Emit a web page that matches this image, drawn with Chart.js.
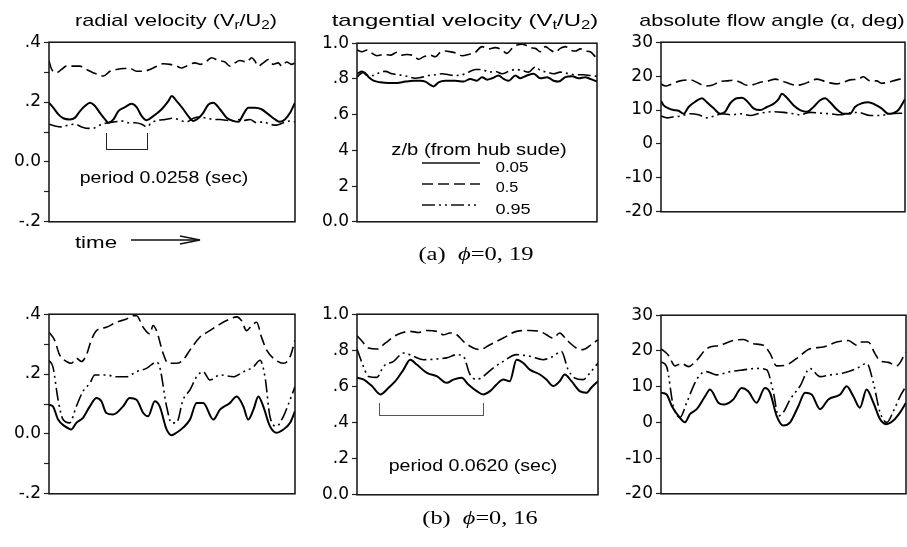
<!DOCTYPE html>
<html lang="en">
<head>
<meta charset="UTF-8">
<title>Velocity and flow angle fluctuations</title>
<style>
  body { margin: 0; background: #fff; }
  #fig { position: relative; width: 907px; height: 547px; overflow: hidden;
         font-family: "Liberation Sans", Arial, sans-serif; color: #000; }
  canvas, .txt, .brk, svg { position: absolute; }
  .txt { white-space: nowrap; font-size: 17px; line-height: 20px; transform-origin: center center; }
  .txt sub { font-size: 70%; vertical-align: -3px; line-height: 0; }
  .serif { font-family: "Liberation Serif", "Times New Roman", serif; font-size: 19px; }
  .num { font-size: 15.5px; }
  .brk { border: 1.3px solid #222; border-top: none; }
</style>
</head>
<body>
<div id="fig">
  <canvas id="radA"></canvas>
  <canvas id="tanA"></canvas>
  <canvas id="angA"></canvas>
  <canvas id="radB"></canvas>
  <canvas id="tanB"></canvas>
  <canvas id="angB"></canvas>

  <div class="txt" data-x="176" data-y="21" data-w="202">radial velocity (V<sub>r</sub>/U<sub>2</sub>)</div>
  <div class="txt" data-x="465" data-y="21" data-w="266">tangential velocity (V<sub>t</sub>/U<sub>2</sub>)</div>
  <div class="txt" data-x="772" data-y="21" data-w="265">absolute flow angle (&alpha;, deg)</div>

  <div class="txt" data-x="96" data-y="243" data-w="42">time</div>
  <svg style="left:131px;top:232px" width="72" height="16">
    <line x1="0" y1="8" x2="69" y2="8" stroke="#111" stroke-width="1.3"/>
    <polyline points="49,4 69,8 49,12" fill="none" stroke="#111" stroke-width="1.3"/>
  </svg>

  <div class="brk" style="left:106px;top:133px;width:40px;height:16px"></div>
  <div class="txt" data-x="164" data-y="178" data-w="168">period 0.0258 (sec)</div>

  <div class="txt" data-x="479" data-y="150" data-w="175">z/b (from hub sude)</div>
  <svg style="left:420px;top:155px" width="64" height="60">
    <line x1="2" y1="8" x2="60" y2="8" stroke="#111" stroke-width="1.5"/>
    <line x1="2" y1="29" x2="60" y2="29" stroke="#111" stroke-width="1.5" stroke-dasharray="11 5"/>
    <line x1="2" y1="50" x2="60" y2="50" stroke="#111" stroke-width="1.5" stroke-dasharray="13 4 2 4 2 4"/>
  </svg>
  <div class="txt num" data-x="511.5" data-y="167" data-w="33">0.05</div>
  <div class="txt num" data-x="506.5" data-y="187" data-w="23">0.5</div>
  <div class="txt num" data-x="512.5" data-y="209" data-w="35">0.95</div>

  <div class="txt serif" data-x="476" data-y="254" data-w="115">(a)&nbsp;&nbsp;<i>&#981;</i>=0,&nbsp;19</div>

  <div class="brk" style="left:379px;top:403px;width:103px;height:12px;border-color:#555"></div>
  <div class="txt" data-x="473" data-y="466" data-w="168">period 0.0620 (sec)</div>

  <div class="txt serif" data-x="480" data-y="518" data-w="115">(b)&nbsp;&nbsp;<i>&#981;</i>=0,&nbsp;16</div>
</div>

<script src="https://cdn.jsdelivr.net/npm/chart.js"></script>
<script>
// ---- data: time is 0..100 across each record, three traces per panel
// z/b = 0.05 (hub), 0.5 (mid), 0.95 (tip)

// (a) phi = 0.19, radial velocity Vr/U2
var radA_hub_t = [0,1.8,3.8,5.8,8.5,10.6,12.6,14.6,16.7,18.7,20.7,22.8,24.1,26.2,28.2,30.9,33.6,35.6,37.7,39.7,42.4,45.8,48.5,49.9,51.9,54.6,56.6,58.7,60.7,62.7,64.8,66.8,69.5,72.2,74.9,77.0,79.0,81.0,83.7,86.4,89.2,91.9,93.9,95.9,98.0,100];
var radA_hub = [0.198,0.181,0.159,0.146,0.142,0.148,0.17,0.187,0.198,0.187,0.164,0.142,0.131,0.142,0.17,0.183,0.194,0.183,0.153,0.139,0.153,0.176,0.203,0.22,0.203,0.176,0.153,0.137,0.146,0.164,0.192,0.198,0.176,0.148,0.137,0.134,0.159,0.181,0.181,0.176,0.159,0.142,0.134,0.142,0.164,0.198];
var radA_mid_t = [0,1.1,3.1,5.1,7.0,9.8,12.5,15.2,17.9,20.1,22.1,24.8,27.5,30.2,32.9,35.6,38.3,41.1,43.8,46.5,49.2,51.9,53.9,56.6,59.3,61.4,64.1,66.1,68.8,71.5,73.6,75.6,77.6,80.4,82.4,83.7,85.1,87.1,89.2,91.2,93.2,94.6,96.6,98.6,100];
var radA_mid = [0.337,0.309,0.298,0.309,0.32,0.32,0.32,0.309,0.298,0.292,0.287,0.303,0.309,0.312,0.312,0.303,0.303,0.309,0.32,0.328,0.326,0.32,0.314,0.323,0.331,0.326,0.337,0.348,0.339,0.334,0.32,0.331,0.339,0.334,0.348,0.337,0.32,0.331,0.342,0.326,0.331,0.32,0.334,0.326,0.331];
var radA_tip_t = [0,2.4,5.1,7.9,10.6,13.3,16,18.7,21.4,24.1,26.8,29.5,32.2,35,37.7,39.7,41.7,44.4,47.2,50.5,53.9,56,58.7,61.4,64.1,66.8,69.5,72.2,74.9,77.6,79.7,81.7,84.4,87.1,89.8,92.5,95.3,98,100];
var radA_tip = [0.126,0.12,0.117,0.123,0.126,0.117,0.112,0.114,0.126,0.131,0.134,0.137,0.131,0.131,0.126,0.117,0.131,0.139,0.142,0.146,0.137,0.134,0.146,0.15,0.146,0.142,0.142,0.139,0.137,0.142,0.139,0.142,0.131,0.134,0.126,0.123,0.131,0.137,0.134];

// (a) tangential velocity Vt/U2
var tanA_hub_t = [0,1.4,2.8,4.9,6.9,9.7,13.2,16.7,20.1,23.6,26.4,28.5,30.6,31.9,34,36.8,41,44.4,47.2,50,52.1,54.2,56.3,59,61.1,63.2,66,68,70.8,73.6,76.4,79.2,81.9,84,86.8,89.6,92.4,95.1,97.2,100];
var tanA_hub = [0.81,0.829,0.838,0.81,0.79,0.781,0.777,0.777,0.785,0.79,0.79,0.785,0.766,0.758,0.781,0.79,0.79,0.785,0.8,0.79,0.81,0.796,0.804,0.819,0.8,0.79,0.819,0.804,0.819,0.829,0.804,0.81,0.79,0.785,0.81,0.815,0.804,0.81,0.8,0.785];
var tanA_mid_t = [0,2.1,4.2,6.3,8.3,11.1,13.9,16.7,18.8,20.8,23.6,25.7,27.8,30.6,32.6,34.7,36.8,38.9,41.7,43.8,46.5,49.3,52.1,54.9,57.6,60.4,62.5,64.6,66.7,68.8,70.1,72.2,74.3,76.4,78.5,80.6,82.6,84.7,86.8,88.9,91,93.1,95.1,97.2,99.3];
var tanA_mid = [0.962,0.952,0.962,0.943,0.93,0.937,0.933,0.949,0.933,0.937,0.93,0.91,0.924,0.933,0.924,0.949,0.956,0.952,0.943,0.93,0.937,0.949,0.981,0.968,0.975,0.962,0.943,0.971,0.99,0.994,0.99,0.975,0.971,0.952,0.981,0.962,0.949,0.971,0.981,0.962,0.956,0.968,0.956,0.952,0.924];
var tanA_tip_t = [0,2.1,4.2,6.9,9.7,11.8,14.6,17.4,20.8,24.3,27.1,29.9,32.6,35.4,38.2,41,43.75,46.5,49.3,52.1,54.9,57.6,60.4,63.2,66,68.75,71.5,74.3,76.4,79.2,81.9,84.7,88.2,91,94.4,97.2,100];
var tanA_tip = [0.829,0.842,0.819,0.819,0.838,0.842,0.829,0.823,0.815,0.804,0.81,0.819,0.823,0.829,0.823,0.819,0.823,0.838,0.853,0.853,0.838,0.842,0.829,0.842,0.853,0.848,0.838,0.867,0.848,0.838,0.829,0.838,0.829,0.823,0.823,0.819,0.815];

// (a) absolute flow angle, deg
var angA_hub_t = [0,1.1,3.1,5.2,7.2,9.3,11.3,14.1,16.8,18.8,21.6,24.3,26.3,28.4,31.1,33.2,35.2,37.9,40.7,43.4,46.1,48.2,49.5,51.6,54.3,57,59.8,62.5,65.2,67.3,69.3,72,74.8,77.5,79.5,82.3,85,87.7,90.4,93.2,95.2,97.3,100];
var angA_hub = [12.7,11.4,10.5,10.0,9.8,8.9,10.9,12.5,13.5,12.3,10.5,8.9,9.5,12.0,13.5,13.6,12.7,10.5,10.0,10.9,11.8,13.2,14.8,13.6,11.4,10.0,9.5,10.9,12.9,13.5,12.3,10.2,8.9,8.9,10.9,12.0,12.3,11.6,10.5,8.9,9.1,10.0,13.2];
var angA_mid_t = [0,1.8,4.5,7.9,12,15.4,18.1,20.9,24.3,27,29.7,32.5,35.2,37.9,40.7,44.1,46.8,49.5,53,55.7,58.4,61.1,63.8,66.6,69.3,72,74.8,77.5,80.9,82.9,85.7,88.4,90.4,93.2,96.6,100];
var angA_mid = [17.7,17.1,17.7,18.6,18.9,17.9,17.1,17.3,18.4,18.6,18.8,18.2,17.3,17.5,18.2,18.6,19.1,18.6,17.7,17.3,17.7,18.4,19.1,18.6,18.0,17.7,18.2,18.9,19.1,19.8,18.6,18.6,17.9,18.2,18.9,19.3];
var angA_tip_t = [0,2.5,5.2,7.9,12,15.4,18.8,21.6,25,29.1,32.5,36.6,40.7,46.1,50.2,54.3,57,61.1,65.2,69.3,73.4,76.8,80.9,85.7,89.8,93.9,100];
var angA_tip = [8.2,7.7,8.0,8.2,8.9,8.6,7.7,8.2,8.9,8.6,8.9,8.4,9.1,9.5,9.3,8.9,8.6,9.3,9.1,8.9,8.6,9.1,9.3,8.4,8.4,8.9,9.1];

// (b) phi = 0.16, radial velocity
var radB_hub_t = [0,1.6,3.7,6.4,9.1,11.1,13.8,16.6,19.3,21.3,23.3,26,30.1,32.8,35.6,38.3,40.3,43,45,47.8,49.8,51.8,54.5,57.3,60,62.7,66.8,69.5,73.5,76.3,79,81,83.1,85.1,87.1,89.8,92.5,95.3,98,100];
var radB_hub = [0.098,0.092,0.048,0.026,0.015,0.037,0.054,0.092,0.12,0.109,0.07,0.065,0.092,0.12,0.114,0.07,0.059,0.109,0.092,0.015,-0.004,0.004,0.021,0.048,0.103,0.103,0.048,0.081,0.103,0.125,0.092,0.048,0.081,0.125,0.092,0.026,0.004,0.015,0.037,0.076];
var radB_mid_t = [0,2.3,4.3,7.1,9.1,11.1,13.2,15.2,17.2,19.3,23.3,27.4,31.5,34.2,35.6,38.3,41,42.3,43.7,46.4,48.4,51.8,54.5,57.3,61.3,65.4,69.5,73.5,76.3,78.3,80.3,82.4,84.4,86.4,88.5,91.2,95.3,98,100];
var radB_mid = [0.34,0.313,0.264,0.242,0.236,0.253,0.242,0.264,0.313,0.345,0.356,0.373,0.384,0.395,0.395,0.356,0.334,0.362,0.345,0.269,0.236,0.236,0.247,0.28,0.323,0.345,0.367,0.384,0.391,0.378,0.345,0.362,0.373,0.323,0.28,0.253,0.236,0.258,0.313];
var radB_tip_t = [0,1.6,3.7,5.7,8.4,11.1,13.8,16.6,18.6,23.3,27.4,31.5,35.6,39.6,43.7,45,47.8,49.8,51.8,54.5,57.3,60,62.7,65.4,69.5,74.9,79,83.1,85.8,87.8,89.8,92.5,95.3,98,100];
var radB_tip = [0.246,0.224,0.114,0.048,0.037,0.092,0.142,0.169,0.197,0.197,0.191,0.191,0.208,0.219,0.24,0.224,0.092,0.037,0.037,0.114,0.147,0.191,0.208,0.18,0.197,0.191,0.208,0.224,0.246,0.191,0.059,0.026,0.059,0.114,0.158];

// (b) tangential velocity
var tanB_hub_t = [0,2.8,6.2,9.7,13.1,15.9,19.3,22.1,24.8,29,33.1,37.2,40,43.4,46.2,49.7,52.4,55.2,57.9,60.7,63.4,66.2,69,71.7,75.9,78.6,81.4,84.1,86.2,89,92.4,95.2,97.2,100];
var tanB_hub = [0.648,0.638,0.602,0.556,0.593,0.629,0.693,0.748,0.721,0.675,0.657,0.62,0.638,0.648,0.611,0.574,0.556,0.574,0.611,0.638,0.629,0.748,0.73,0.693,0.666,0.638,0.602,0.629,0.666,0.629,0.574,0.565,0.593,0.629];
var tanB_mid_t = [0,2.1,4.8,8.3,11.7,16.6,22.1,25.5,29,33.1,35.9,38.6,41.4,44.1,48.3,51,55.2,60.7,66.2,71.7,75.9,78.6,81.4,84.1,86.9,91,93.8,97.2,100];
var tanB_mid = [0.881,0.85,0.813,0.807,0.84,0.886,0.905,0.899,0.91,0.905,0.886,0.896,0.886,0.85,0.813,0.804,0.831,0.868,0.905,0.91,0.905,0.886,0.868,0.896,0.859,0.813,0.804,0.831,0.859];
var tanB_tip_t = [0,2.1,4.8,8.3,11,15.2,19.3,23.4,27.6,33.1,37.2,41.4,44.1,46.9,49.7,52.4,56.6,60.7,66.2,71.7,77.2,81.4,84.8,87.6,90.3,93.8,97.2,100];
var tanB_tip = [0.807,0.73,0.655,0.65,0.711,0.739,0.785,0.767,0.748,0.752,0.758,0.776,0.767,0.666,0.638,0.656,0.703,0.739,0.776,0.767,0.748,0.767,0.794,0.693,0.647,0.638,0.684,0.73];

// (b) absolute flow angle
var angB_hub_t = [0,2.3,4.4,7.1,9.8,11.8,14.6,18,20,23.4,25.5,29.5,32.9,35.6,39,42.4,44.5,47.2,49.9,52.7,56.1,58.8,61.5,64.9,68.3,73.1,75.8,78.5,81.2,83.9,86.7,89.4,92.1,94.8,97.6,100];
var angB_hub = [8.3,7.8,4.6,1.8,0,2.3,3.7,7.3,9.2,5.5,5.0,6.4,9.6,8.7,5.5,9.6,8.3,1.8,-0.9,0,4.6,8.3,7.8,3.7,6.4,7.8,10.1,7.3,4.1,9.2,5.5,0.9,-0.5,0.5,2.8,5.5];
var angB_mid_t = [0,3,5.7,8.4,11.2,14.6,18.6,24.1,29.5,33.6,37.7,41.8,44.5,47.2,51.3,55.4,60.8,66.3,71.7,76.5,79.9,81.9,84.6,87.3,89.4,92.8,96.2,100];
var angB_mid = [20.6,18.8,15.8,16.5,15.6,17.4,20.6,21.6,22.9,23.2,22,21.6,19.3,15.8,16.1,17.9,20.6,21.1,22.5,22.9,21.6,22.5,22.5,19.3,17.2,16.8,15.8,19.7];
var angB_tip_t = [0,2.3,5,7.8,10.5,13.2,15.9,18.6,22.7,28.2,33.6,39,43.1,45.9,47.9,49.9,52.7,56.7,60.8,64.9,69,74.4,79.9,84,86.7,89.4,92.2,94.9,97.6,100];
var angB_tip = [16.9,15.6,4.6,1.4,5.5,10.1,13.3,14.2,13.3,14.2,14.7,15.1,14.7,8.3,1.8,2.8,6.4,10.1,15.1,12.8,13.3,13.8,15.1,16.5,11,2.8,0,3.2,7.3,10.1];

// tick values and their printed labels
var radTicks = [-0.2,-0.1,0,0.1,0.2,0.3,0.4];
var radTickText = ['-.2','','0.0','','.2','','.4'];
var tanTicks = [0,0.2,0.4,0.6,0.8,1.0];
var tanTickTextA = ['0.0','2','4','.6','.8','1.0'];
var tanTickTextB = ['0.0','.2','.4','.6','.8','1.0'];
var angTicks = [-20,-10,0,10,20,30];
var angTickText = ['-20','-10','0','10','20','30'];

// ---- drawing
var YW = 48, PT = 12, PB = 12, PR = 3;

var lineStyles = [
    { borderDash: [], borderWidth: 2 },              // 0.05
    { borderDash: [11, 5], borderWidth: 1.6 },       // 0.5
    { borderDash: [13, 4, 2, 4, 2, 4], borderWidth: 1.6 }  // 0.95
];

var frame = {
    id: 'frame',
    afterDatasetsDraw: function(chart) {
        var ctx = chart.ctx, a = chart.chartArea;
        ctx.save();
        ctx.strokeStyle = '#111';
        ctx.lineWidth = 1.5;
        ctx.strokeRect(a.left, a.top, a.right - a.left, a.bottom - a.top);
        ctx.restore();
    }
};

function zip(t, v) {
    return t.map(function(x, i) { return { x: x, y: v[i] }; });
}

function makePanel(id, plot, yMin, yMax, ticks, tickText, series) {
    var cv = document.getElementById(id);
    cv.width = plot[2] - plot[0] + YW + PR;
    cv.height = plot[3] - plot[1] + PT + PB;
    cv.style.left = (plot[0] - YW) + 'px';
    cv.style.top = (plot[1] - PT) + 'px';

    new Chart(cv.getContext('2d'), {
        type: 'line',
        data: {
            datasets: series.map(function(s, i) {
                return Object.assign({
                    data: zip(s[0], s[1]),
                    borderColor: '#000',
                    pointRadius: 0,
                    fill: false,
                    cubicInterpolationMode: 'monotone'
                }, lineStyles[i]);
            })
        },
        options: {
            responsive: false,
            animation: false,
            layout: { padding: { top: PT, bottom: PB, left: 0, right: PR } },
            plugins: { legend: { display: false }, tooltip: { enabled: false } },
            scales: {
                x: { type: 'linear', min: 0, max: 100, display: false },
                y: {
                    min: yMin, max: yMax,
                    afterFit: function(s) { s.width = YW; },
                    afterBuildTicks: function(s) {
                        s.ticks = ticks.map(function(v) { return { value: v }; });
                    },
                    ticks: {
                        autoSkip: false,
                        padding: 3,
                        color: '#000',
                        font: { family: 'DejaVu Sans', size: 17 },
                        callback: function(v, i) { return tickText[i]; }
                    },
                    grid: { drawOnChartArea: false, tickLength: 5, tickColor: '#222', tickWidth: 1.2 },
                    border: { display: false }
                }
            }
        },
        plugins: [frame]
    });
}

makePanel('radA', [49, 41, 295, 223], -0.2, 0.4, radTicks, radTickText,
    [[radA_hub_t, radA_hub], [radA_mid_t, radA_mid], [radA_tip_t, radA_tip]]);
makePanel('tanA', [357, 42, 597, 223], 0, 1, tanTicks, tanTickTextA,
    [[tanA_hub_t, tanA_hub], [tanA_mid_t, tanA_mid], [tanA_tip_t, tanA_tip]]);
makePanel('angA', [661, 41, 905, 213], -20, 30, angTicks, angTickText,
    [[angA_hub_t, angA_hub], [angA_mid_t, angA_mid], [angA_tip_t, angA_tip]]);
makePanel('radB', [49, 313, 295, 495], -0.2, 0.4, radTicks, radTickText,
    [[radB_hub_t, radB_hub], [radB_mid_t, radB_mid], [radB_tip_t, radB_tip]]);
makePanel('tanB', [357, 313, 598, 496], 0, 1, tanTicks, tanTickTextB,
    [[tanB_hub_t, tanB_hub], [tanB_mid_t, tanB_mid], [tanB_tip_t, tanB_tip]]);
makePanel('angB', [661, 314, 906, 495], -20, 30, angTicks, angTickText,
    [[angB_hub_t, angB_hub], [angB_mid_t, angB_mid], [angB_tip_t, angB_tip]]);

// place the text labels: centre at (x, y), stretched to the width seen in the figure
document.querySelectorAll('.txt').forEach(function(el) {
    var w = el.offsetWidth;
    var sx = parseFloat(el.dataset.w) / w;
    el.style.left = el.dataset.x + 'px';
    el.style.top = el.dataset.y + 'px';
    el.style.transform = 'translate(-50%, -50%) scaleX(' + sx.toFixed(3) + ')';
});
</script>
</body>
</html>
